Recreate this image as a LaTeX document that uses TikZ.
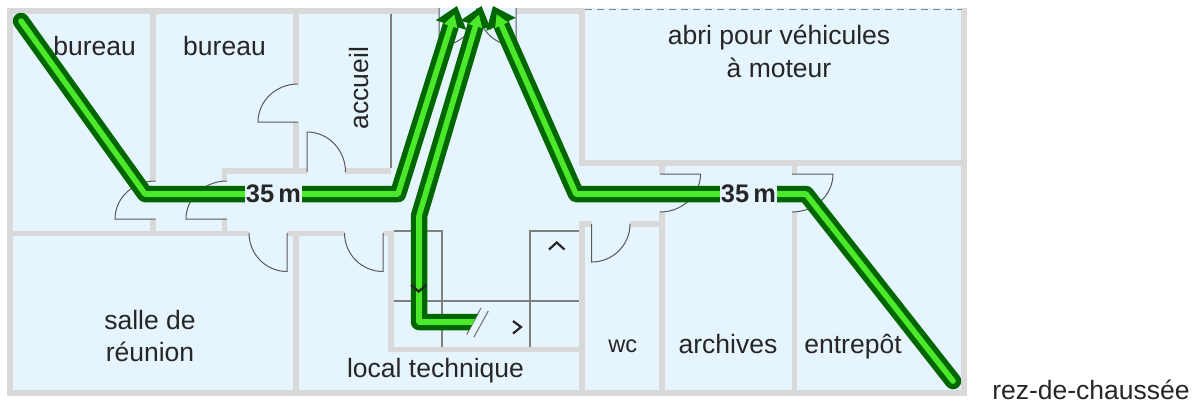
\documentclass[tikz,border=0pt]{standalone}
\usepackage{fontspec}
\setmainfont{Liberation Sans}
\usetikzlibrary{calc}
\definecolor{floorblue}{HTML}{E5F4FD}
\definecolor{wallgrey}{HTML}{D9D9D9}
\definecolor{thingrey}{HTML}{7F7F7F}
\definecolor{doorgrey}{HTML}{595959}
\definecolor{inkdark}{HTML}{262626}
\definecolor{routedark}{HTML}{006600}
\definecolor{routelight}{HTML}{4CE82A}
\tikzset{
  x=1bp,y=-1bp,
  wall/.style={draw=wallgrey,line width=5.8bp,line join=miter},
  thin line/.style={draw=thingrey,line width=1.2bp},
  door/.style={draw=doorgrey,line width=1bp},
  chev/.style={draw=inkdark,line width=2.2bp},
  outerroute/.style={draw=routedark,line width=16.5bp,line join=round},
  innerroute/.style={draw=routelight,line width=5.6bp,line join=round},
  roomlabel/.style={anchor=base,text=inkdark,font=\fontsize{26.6}{32}\selectfont,inner sep=0pt},
  distlabel/.style={anchor=center,text=inkdark,font=\fontsize{25.5}{30}\selectfont\bfseries,inner sep=0pt,
    minimum width=57bp,text height=16bp,text depth=0bp},
}
\newcommand{\doorarc}[3]{% hinge, leaf end, arc end
  \draw[door] (#1) -- (#2) .. controls ($(#2)+.5523*(#3)-.5523*(#1)$) and ($(#3)+.5523*(#2)-.5523*(#1)$) .. (#3);}
\newcommand{\heads}[2]{% tip name, from name
  \path ($(#1)!20bp!(#2)$) coordinate (#1b);
  \fill[routedark] (#1) -- ($(#1b)!16bp!90:(#1)$) -- ($(#1b)!16bp!-90:(#1)$) -- cycle;
  \path ($(#1)!21bp!(#2)$) coordinate (#1c);
  \fill[routelight] ($(#1)!9bp!(#2)$) -- ($(#1c)!7bp!90:(#1)$) -- ($(#1c)!7bp!-90:(#1)$) -- cycle;}
\begin{document}
\begin{tikzpicture}
\useasboundingbox (0,0) rectangle (1194,403);
\fill[floorblue] (10,8) rectangle (964,393);
% walls
\draw[wall] (439,11) -- (10,11) -- (10,393) -- (964,393) -- (964,8);
\draw[wall] (516,11) -- (582,11) -- (582,163) -- (964,163);
\draw[wall] (153,11) -- (153,181);
\draw[wall] (153,219) -- (153,233);
\draw[wall] (296,11) -- (296,84);
\draw[wall] (296,122) -- (296,171);
\draw[wall] (224.5,219) -- (224.5,233);
\draw[wall] (224.5,181) -- (224.5,171) -- (307,171);
\draw[wall] (345,171) -- (391,171);
\draw[wall] (10,233.5) -- (249,233.5);
\draw[wall] (287,233.5) -- (345,233.5);
\draw[wall] (383,233.5) -- (391,233.5) -- (391,349.5) -- (582,349.5);
\draw[wall] (296,233.5) -- (296,393);
\draw[wall] (582,393) -- (582,224) -- (592,224);
\draw[wall] (630,224) -- (662,224);
\draw[wall] (662,163) -- (662,174);
\draw[wall] (662,212) -- (662,393);
\draw[wall] (794.5,163) -- (794.5,174);
\draw[wall] (794.5,212) -- (794.5,393);
\draw[draw=thingrey,line width=1bp,dash pattern=on 7bp off 5bp] (585,9) -- (962,9);
% thin lines
\draw[thin line] (391,14) -- (391,168);
\draw[thin line] (394,231) -- (442,231) -- (442,347);
\draw[thin line] (394,301) -- (579,301);
\draw[thin line] (579,231) -- (530,231) -- (530,347);
\draw[thin line] (466.7,334.5) -- (481,308);
\draw[thin line] (474,337) -- (488.3,311);
% doors
\doorarc{155.5,219}{115,219}{155.5,181}
\doorarc{227,219}{186,219}{227,181}
\doorarc{298,122}{258,122}{298,84}
\doorarc{307,172}{307,132}{345.5,172}
\doorarc{287,233}{287,271.5}{249,233}
\doorarc{383,233}{383,271.5}{344.5,233}
\doorarc{591.7,224}{591.7,262}{630,224}
\doorarc{660,174}{700.5,174}{660,212}
\doorarc{792,174}{833,174}{792,212}
\doorarc{439,8}{439,46}{477,8}
\doorarc{516,8}{516,46}{478,8}
% texts
\node[roomlabel] (bur1) at (94.7,55) {bureau};
\node[roomlabel] (bur2) at (224.5,55) {bureau};
\node[roomlabel,rotate=90] (acc) at (368,88) {accueil};
\node[roomlabel] (sal1) at (150,329) {salle de};
\node[roomlabel] (sal2) at (150,361.5) {réunion};
\node[roomlabel] (abr1) at (779,44.5) {abri pour véhicules};
\node[roomlabel] (abr2) at (779,77.5) {à moteur};
\node[roomlabel] (loc) at (435.5,377.7) {local technique};
\node[roomlabel,font=\fontsize{23.7}{28}\selectfont] (wc) at (622.7,352.3) {wc};
\node[roomlabel] (arc) at (728,353.3) {archives};
\node[roomlabel] (ent) at (853,353.3) {entrepôt};
\node[roomlabel] (rdc) at (1091,399.5) {rez-de-chaussée};
\node[distlabel] (dA) at (273.5,194) {35\,m};
\node[distlabel] (dB) at (748.5,194) {35\,m};
% route coordinates
\coordinate (sA) at (21,21);
\coordinate (cA) at (145,194);
\coordinate (cB) at (398,194);
\coordinate (tA) at (457,6);
\coordinate (sB) at (482,322);
\coordinate (cC) at (419,322);
\coordinate (cD) at (419,216);
\coordinate (tB) at (481.5,6);
\coordinate (sC) at (953,381);
\coordinate (cE) at (806,194);
\coordinate (cF) at (576,194);
\coordinate (tC) at (493,6);
\path ($(tA)!20bp!(cB)$) coordinate (eA);
\path ($(tB)!20bp!(cD)$) coordinate (eB);
\path ($(tC)!20bp!(cF)$) coordinate (eC);
% routes
\fill[routedark] (sA) circle (8.25);
\fill[routedark] (sC) circle (8.25);
\draw[outerroute] (sA) -- (cA) -- (dA.west);
\draw[outerroute] (dA.east) -- (cB) -- (eA);
\begin{scope}
  \clip (380,0) -- (520,0) -- (481,308) -- (466.7,334.5) -- (380,345) -- cycle;
  \draw[outerroute] (sB) -- (cC) -- (cD) -- (eB);
  \draw[innerroute] (sB) -- (cC) -- (cD) -- (eB);
\end{scope}
\draw[outerroute] (dB.west) -- (cF) -- (eC);
\draw[outerroute] (sC) -- (cE) -- (dB.east);
\fill[routelight] (sA) circle (2.8);
\fill[routelight] (sC) circle (2.8);
\draw[innerroute] (sA) -- (cA) -- (dA.west);
\draw[innerroute] (dA.east) -- (cB) -- (eA);
\draw[innerroute] (dB.west) -- (cF) -- (eC);
\draw[innerroute] (sC) -- (cE) -- (dB.east);
\heads{tA}{cB}
\heads{tB}{cD}
\heads{tC}{cF}
% chevrons
\draw[chev] (411,285) -- (418.7,291.5) -- (426.5,285);
\draw[chev] (549,249.5) -- (556.7,242.5) -- (564.5,249.5);
\draw[chev] (513,321) -- (521,327) -- (513,333.5);
\end{tikzpicture}
\end{document}
